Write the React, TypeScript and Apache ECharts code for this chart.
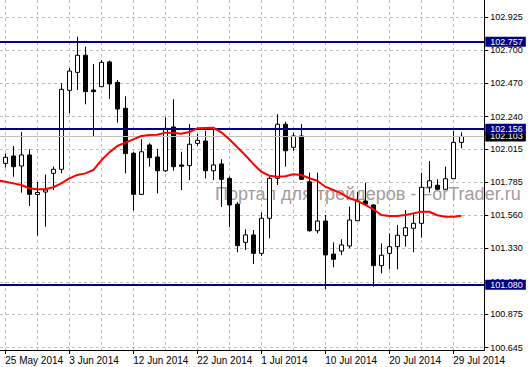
import React, { useEffect, useRef } from "react";
import * as echarts from "echarts";

// Bars (Sun–Fri daily bars). Index 0 is the partially hidden bar before the first label.
const dates = [
  "23 May 2014", "25 May 2014", "26 May 2014", "27 May 2014", "28 May 2014", "29 May 2014", "30 May 2014",
  "1 Jun 2014", "2 Jun 2014", "3 Jun 2014", "4 Jun 2014", "5 Jun 2014", "6 Jun 2014", "8 Jun 2014",
  "9 Jun 2014", "10 Jun 2014", "11 Jun 2014", "12 Jun 2014", "13 Jun 2014", "15 Jun 2014", "16 Jun 2014",
  "17 Jun 2014", "18 Jun 2014", "19 Jun 2014", "20 Jun 2014", "22 Jun 2014", "23 Jun 2014", "24 Jun 2014",
  "25 Jun 2014", "26 Jun 2014", "27 Jun 2014", "29 Jun 2014", "30 Jun 2014", "1 Jul 2014", "2 Jul 2014",
  "3 Jul 2014", "4 Jul 2014", "6 Jul 2014", "7 Jul 2014", "8 Jul 2014", "9 Jul 2014", "10 Jul 2014",
  "11 Jul 2014", "13 Jul 2014", "14 Jul 2014", "15 Jul 2014", "16 Jul 2014", "17 Jul 2014", "18 Jul 2014",
  "20 Jul 2014", "21 Jul 2014", "22 Jul 2014", "23 Jul 2014", "24 Jul 2014", "25 Jul 2014", "27 Jul 2014",
  "28 Jul 2014", "29 Jul 2014", "30 Jul 2014",
];

const opens = [
  null, 101.917, 101.968, 101.899, 101.975, 101.702, 101.719, 101.848, 101.876, 102.421, 102.545,
  102.663, 102.423, 102.446, 102.617, 102.476, 102.297, 101.987, 101.703, 102.044, 101.961,
  101.866, 102.168, 101.906, 101.901, 102.055, 102.071, 101.866, 101.913, 101.813, 101.635,
  101.372, 101.423, 101.296, 101.538, 101.814, 102.187, 102.028, 102.106, 101.790, 101.452,
  101.519, 101.291, 101.312, 101.347, 101.521, 101.657, 101.630, 101.211, 101.296, 101.342,
  101.418, 101.469, 101.503, 101.752, 101.766, 101.738, 101.811, 102.062,
];
const closes = [
  null, 101.959, 101.894, 101.975, 101.703, 101.716, 101.733, 101.876, 102.428, 102.554, 102.663,
  102.412, 102.412, 102.614, 102.465, 102.292, 101.984, 101.703, 101.997, 101.956, 101.866,
  102.159, 101.894, 101.897, 102.049, 102.076, 101.866, 101.906, 101.807, 101.630, 101.349,
  101.423, 101.296, 101.538, 101.814, 102.187, 102.004, 102.106, 101.807, 101.452, 101.519,
  101.285, 101.255, 101.354, 101.526, 101.657, 101.635, 101.211, 101.283, 101.342, 101.421,
  101.473, 101.503, 101.752, 101.797, 101.738, 101.811, 102.062, 102.103,
];
const lows = [
  null, 101.888, 101.825, 101.715, 101.623, 101.418, 101.480, 101.733, 101.848, 102.262, 102.423,
  102.325, 102.101, 102.444, 102.361, 102.198, 101.848, 101.590, 101.702, 101.894, 101.710,
  101.857, 101.866, 101.733, 101.802, 102.039, 101.814, 101.802, 101.616, 101.476, 101.303,
  101.319, 101.222, 101.278, 101.400, 101.768, 101.894, 102.004, 101.802, 101.445, 101.434,
  101.050, 101.200, 101.283, 101.331, 101.519, 101.633, 101.066, 101.158, 101.186, 101.186,
  101.342, 101.303, 101.404, 101.715, 101.736, 101.736, 101.809, 102.021,
];
const highs = [
  null, 101.985, 102.037, 102.133, 102.014, 101.788, 101.840, 101.895, 102.470, 102.575, 102.791,
  102.722, 102.603, 102.630, 102.626, 102.492, 102.380, 101.995, 102.083, 102.055, 102.016,
  102.235, 102.359, 101.997, 102.189, 102.120, 102.142, 102.159, 101.945, 101.825, 101.650,
  101.462, 101.457, 101.579, 101.830, 102.256, 102.205, 102.129, 102.189, 101.853, 101.853,
  101.561, 101.372, 101.393, 101.618, 101.721, 101.784, 101.635, 101.365, 101.434, 101.492,
  101.595, 101.572, 101.853, 101.933, 101.807, 101.894, 102.142, 102.131,
];
const movingAverage = [
  101.800, 101.790, 101.779, 101.768, 101.745, 101.738, 101.738, 101.752, 101.779, 101.813, 101.837,
  101.848, 101.871, 101.938, 101.993, 102.037, 102.060, 102.083, 102.106, 102.113, 102.115,
  102.129, 102.129, 102.122, 102.133, 102.159, 102.161, 102.163, 102.131, 102.083, 102.028,
  101.973, 101.913, 101.859, 101.832, 101.825, 101.828, 101.842, 101.837, 101.814, 101.797,
  101.756, 101.733, 101.710, 101.676, 101.659, 101.630, 101.600, 101.561, 101.554, 101.554,
  101.561, 101.572, 101.583, 101.583, 101.559, 101.549, 101.549, 101.556,
];

const levels = [102.757, 102.156, 101.08];
const currentPrice = 102.103;
const yTickLabels = [100.645, 100.875, 101.1, 101.33, 101.56, 101.785, 102.015, 102.24, 102.47, 102.7, 102.925];
const xLabelDates = ["25 May 2014", "3 Jun 2014", "12 Jun 2014", "22 Jun 2014", "1 Jul 2014", "10 Jul 2014", "20 Jul 2014", "29 Jul 2014"];
const watermark = "Портал для трейдеров - ForTrader.ru";

const FONT = "'Liberation Sans', Arial, sans-serif";

export default function App() {
  const ref = useRef<HTMLDivElement>(null);
  useEffect(() => {
    if (!ref.current) return;
    const chart = echarts.init(ref.current, undefined, { renderer: "svg" });

    const labelIdx = xLabelDates.map((d) => dates.indexOf(d));
    const gridIdx: number[] = [];
    for (let k = labelIdx[0]; k <= labelIdx[labelIdx.length - 1]; k += 4) gridIdx.push(k);

    const xMin = 0.3375;
    const xMax = 60.875;

    const candleData = dates
      .map((_, k) => (opens[k] == null ? null : [k, opens[k], closes[k], lows[k], highs[k]]))
      .filter((d) => d !== null);
    const maData = movingAverage.map((v, k) => [k, v]);

    const dash = { color: "#c0c0c0", width: 1, type: [3, 3] as any };
    const boxLabel = (bg: string) => ({
      show: true,
      position: "end",
      distance: 1,
      formatter: (p: any) => Number(p.value).toFixed(3),
      backgroundColor: bg,
      color: "#ffffff",
      fontFamily: FONT,
      fontSize: 9,
      lineHeight: 10,
      padding: [0, 3, 0, 5],
    });

    chart.setOption({
      animation: false,
      backgroundColor: "#ffffff",
      grid: { left: 0, right: 46.7, top: 0, bottom: 17, containLabel: false },
      xAxis: [
        {
          type: "value",
          min: xMin,
          max: xMax,
          position: "bottom",
          axisLine: { show: true, onZero: false, lineStyle: { color: "#000", width: 1 } },
          axisTick: { show: true, length: 4, customValues: labelIdx, lineStyle: { color: "#000" } },
          axisLabel: {
            customValues: labelIdx,
            formatter: (v: number) => dates[Math.round(v)],
            align: "left",
            color: "#000",
            fontFamily: FONT,
            fontSize: 10,
            margin: 5,
          },
          splitLine: { show: false },
        },
        {
          type: "value",
          min: xMin,
          max: xMax,
          position: "bottom",
          axisLine: { show: false, onZero: false },
          axisTick: { show: false, customValues: gridIdx },
          axisLabel: { show: false },
          splitLine: { show: true, lineStyle: dash },
        },
      ],
      yAxis: {
        type: "value",
        position: "right",
        min: 100.629,
        max: 103.0444,
        axisLine: { show: true, lineStyle: { color: "#000", width: 1 } },
        axisTick: { show: true, length: 4, customValues: yTickLabels, lineStyle: { color: "#000" } },
        axisLabel: {
          customValues: yTickLabels,
          formatter: (v: number) => v.toFixed(3),
          color: "#000",
          fontFamily: FONT,
          fontSize: 9,
          margin: 6,
        },
        splitLine: { show: true, lineStyle: dash },
      },
      graphic: [
        {
          type: "text",
          z: 1,
          silent: true,
          style: {
            x: 215,
            y: 194,
            text: watermark,
            fill: "#a59b9b",
            fontFamily: FONT,
            fontSize: 18,
            align: "left",
            verticalAlign: "middle",
          },
        },
      ],
      series: [
        {
          type: "candlestick",
          silent: true,
          z: 3,
          barWidth: 4,
          data: candleData,
          itemStyle: {
            color: "#ffffff",
            color0: "#000000",
            borderColor: "#000000",
            borderColor0: "#000000",
            borderWidth: 1,
          },
          markLine: {
            silent: true,
            z: 5,
            precision: 3,
            symbol: ["none", "none"],
            lineStyle: { color: "#c0c0c0", width: 1, type: "solid" },
            label: boxLabel("#000000"),
            data: [{ yAxis: currentPrice }],
          },
        },
        {
          type: "line",
          silent: true,
          z: 7,
          data: maData,
          showSymbol: false,
          symbol: "none",
          lineStyle: { color: "#ff0000", width: 2 },
          markLine: {
            silent: true,
            z: 6,
            precision: 3,
            symbol: ["none", "none"],
            lineStyle: { color: "#000080", width: 2, type: "solid" },
            label: boxLabel("#000080"),
            data: levels.map((v) => ({ yAxis: v })),
          },
        },
      ],
    });
    return () => chart.dispose();
  }, []);
  return <div ref={ref} style={{ position: "absolute", left: 0, top: 0, width: 531, height: 367 }} />;
}
